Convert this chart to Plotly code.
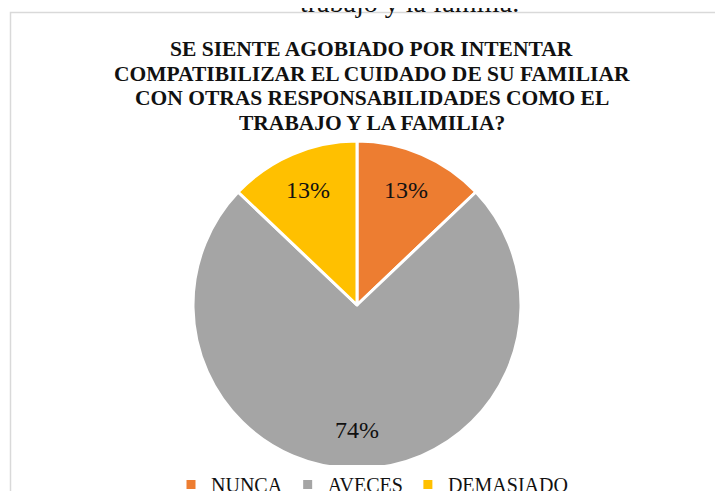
import math
import plotly.graph_objects as go

# Data
categories = ["NUNCA", "AVECES", "DEMASIADO"]
counts = [4, 23, 4]
colors = ["#ED7D31", "#A5A5A5", "#FFC000"]
title_lines = [
    "SE SIENTE AGOBIADO POR INTENTAR",
    "COMPATIBILIZAR EL CUIDADO DE SU FAMILIAR",
    "CON OTRAS RESPONSABILIDADES COMO EL",
    "TRABAJO Y LA FAMILIA?",
]
caption_above = "trabajo y la familia."

# The page body has an 8px margin, so the figure starts at (8, 8) on screen.
OFF = 8
W, H = 723 - OFF, 491 - OFF
SERIF = "Liberation Serif"


def px_x(x):
    return (x - OFF) / W


def px_y(y):
    return 1 - (y - OFF) / H


# pie geometry (screen pixels)
CX, CY, R = 357, 305, 164
LABEL_FRAC = 0.76

fig = go.Figure(
    go.Pie(
        labels=categories,
        values=counts,
        marker=dict(colors=colors, line=dict(color="white", width=3)),
        sort=False,
        direction="clockwise",
        rotation=0,
        textinfo="none",
        domain=dict(x=[px_x(CX - R), px_x(CX + R)], y=[px_y(CY + R), px_y(CY - R)]),
        showlegend=True,
    )
)

annotations = []
# percentage labels, positioned from the data (mid-angle of each slice)
total = sum(counts)
cum = 0
for v in counts:
    mid = (cum + v / 2) / total * 2 * math.pi
    cum += v
    lx = CX + LABEL_FRAC * R * math.sin(mid)
    ly = CY - LABEL_FRAC * R * math.cos(mid)
    annotations.append(
        dict(
            text=f"{round(100 * v / total)}%",
            xref="paper",
            yref="paper",
            x=px_x(lx),
            y=px_y(ly),
            xanchor="center",
            yanchor="middle",
            showarrow=False,
            font=dict(family=SERIF, size=24, color="#111111"),
        )
    )

# title lines
title_y = [48, 72.5, 97, 121.5]
for line, yy in zip(title_lines, title_y):
    annotations.append(
        dict(
            text=line,
            xref="paper",
            yref="paper",
            x=px_x(372),
            y=px_y(yy + 1),
            xanchor="center",
            yanchor="middle",
            showarrow=False,
            font=dict(family=SERIF, size=21.5, color="#111111", weight="bold"),
        )
    )

annotations.append(
    dict(
        text=caption_above,
        xref="paper",
        yref="paper",
        x=px_x(409),
        y=px_y(20),
        xanchor="center",
        yanchor="bottom",
        showarrow=False,
        font=dict(family=SERIF, size=28, color="#111111"),
    )
)

fig.update_layout(
    width=W,
    height=H,
    margin=dict(l=0, r=0, t=0, b=0, autoexpand=False),
    paper_bgcolor="white",
    plot_bgcolor="white",
    legend=dict(
        orientation="h",
        x=px_x(372),
        xanchor="center",
        y=px_y(465),
        yanchor="top",
        font=dict(family=SERIF, size=20, color="#111111"),
        itemwidth=30,
        traceorder="normal",
    ),
    shapes=[
        dict(
            type="rect",
            xref="paper",
            yref="paper",
            x0=px_x(10.5),
            x1=1.05,
            y0=-0.05,
            y1=px_y(12.5),
            line=dict(color="#D9D9D9", width=1.5),
            fillcolor="rgba(0,0,0,0)",
            layer="below",
        )
    ],
    annotations=annotations,
)

fig.write_html("out.html")
